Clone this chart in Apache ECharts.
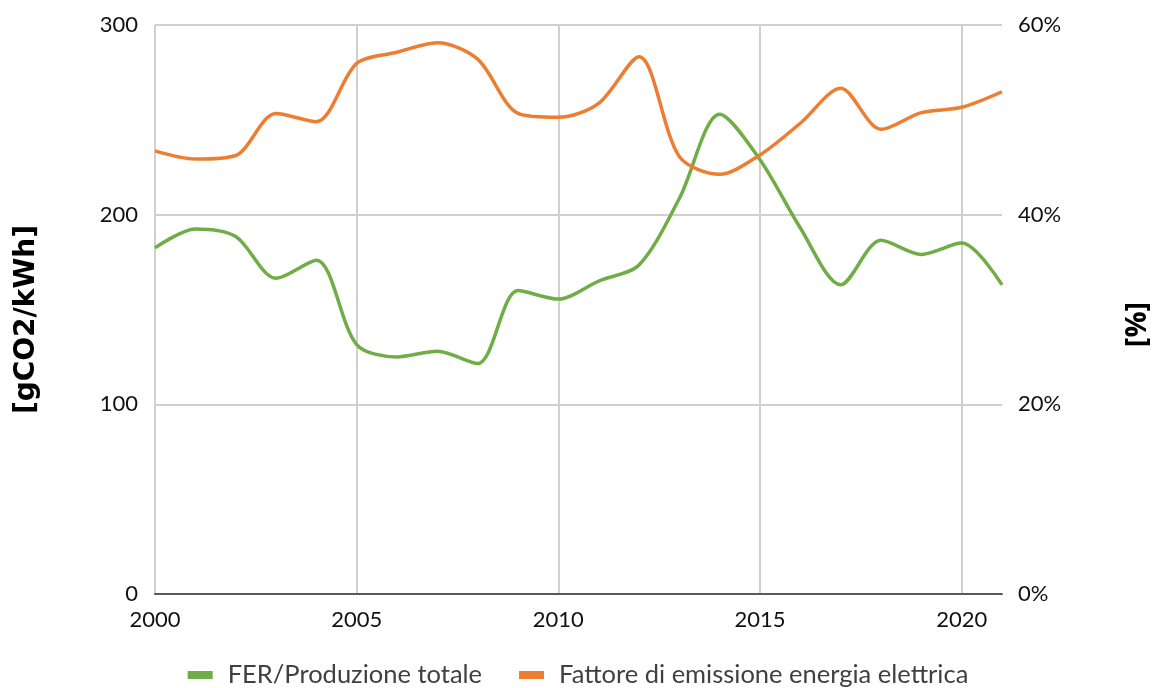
<!DOCTYPE html>
<html>
<head>
<meta charset="utf-8">
<script src="https://cdn.jsdelivr.net/npm/echarts@6/dist/echarts.min.js"></script>
<style>
html,body{margin:0;padding:0;background:#fff;}
#chart{width:1156px;height:688px;}
</style>
</head>
<body>
<div id="chart"></div>
<script>
const years = ['2000','2001','2002','2003','2004','2005','2006','2007','2008','2009','2010','2011','2012','2013','2014','2015','2016','2017','2018','2019','2020','2021'];
const ferShare = [36.5,38.5,37.7,33.3,35.2,26.3,25.0,25.6,24.3,32.0,31.1,33.0,34.7,41.7,50.6,45.8,38.6,32.6,37.3,35.8,37.0,32.6];
const emissionFactor = [233.6,229.3,231.2,253.4,249.0,279.8,285.6,290.7,282.0,253.4,251.3,258.7,283.3,230.6,221.3,231.5,248.2,266.6,245.0,253.8,256.6,264.8];
const leftTicks = [0,100,200,300];
const rightTicks = [0,20,40,60];

const FONT = 'Lato';
const chart = echarts.init(document.getElementById('chart'));
chart.setOption({
  animation: false,
  textStyle: {fontFamily: FONT},
  grid: {left: 155, right: 154, top: 25, bottom: 94, containLabel: false, outerBoundsMode: 'none'},
  legend: {
    top: 662, left: 'center', padding: 0,
    itemWidth: 25, itemHeight: 8, itemGap: 37,
    icon: 'rect',
    textStyle: {fontFamily: FONT, fontSize: 25.5, color: '#404040', padding: [0, 0, 0, 10]},
    data: ['FER/Produzione totale', 'Fattore di emissione energia elettrica']
  },
  xAxis: {
    type: 'category', data: years, boundaryGap: false,
    axisLine: {lineStyle: {color: '#595959', width: 2}},
    axisTick: {show: false},
    axisLabel: {interval: 4, margin: 15, fontSize: 22, color: '#111', fontFamily: FONT},
    splitLine: {show: true, interval: 4, lineStyle: {color: '#d0d0d0', width: 2}}
  },
  yAxis: [
    {
      type: 'value', min: leftTicks[0], max: leftTicks[leftTicks.length-1], interval: 100,
      name: '[gCO2/kWh]', nameLocation: 'middle', nameRotate: 90, nameGap: 114,
      nameTextStyle: {fontFamily: 'DejaVu Sans', fontSize: 28, fontWeight: 'bold', color: '#000', padding: [0, 20, 0, 0]},
      axisLine: {show: false}, axisTick: {show: false},
      axisLabel: {margin: 17, fontSize: 22, color: '#111', fontFamily: FONT},
      splitLine: {lineStyle: {color: '#d0d0d0', width: 2}}
    },
    {
      type: 'value', min: rightTicks[0], max: rightTicks[rightTicks.length-1], interval: 20,
      name: '[%]', nameLocation: 'middle', nameRotate: 90, nameGap: 121,
      nameTextStyle: {fontFamily: 'Open Sans', fontSize: 29, fontWeight: 'bold', color: '#000', padding: [0, 30, 0, 0]},
      axisLine: {show: false}, axisTick: {show: false},
      axisLabel: {margin: 16, fontSize: 22, color: '#111', fontFamily: FONT, formatter: '{value}%'},
      splitLine: {show: false}
    }
  ],
  series: [
    {
      name: 'FER/Produzione totale', type: 'line', yAxisIndex: 1,
      data: ferShare, smooth: 0.3, showSymbol: false, symbol: 'none',
      itemStyle: {color: '#70AD47'},
      lineStyle: {color: '#70AD47', width: 3.5}
    },
    {
      name: 'Fattore di emissione energia elettrica', type: 'line', yAxisIndex: 0,
      data: emissionFactor, smooth: 0.3, showSymbol: false, symbol: 'none',
      itemStyle: {color: '#ED7D31'},
      lineStyle: {color: '#ED7D31', width: 3.5}
    }
  ]
});
</script>
</body>
</html>
